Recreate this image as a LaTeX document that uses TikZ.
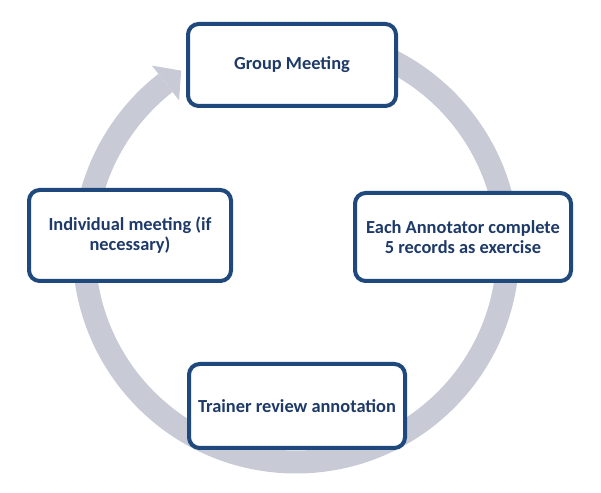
\documentclass[tikz,border=0pt]{standalone}
\usepackage{fontspec}
\setmainfont{Carlito}
\usetikzlibrary{calc}
\definecolor{ringgray}{RGB}{200,203,214}
\definecolor{boxnavy}{RGB}{31,73,125}
\definecolor{textnavy}{RGB}{30,58,104}
\begin{document}
\begin{tikzpicture}[x=0.75pt,y=0.75pt,
  stepbox/.style={draw=boxnavy, line width=3pt, fill=white, rounded corners=8pt,
    align=center, text=textnavy, font=\fontsize{13.8}{15}\selectfont\bfseries,
    inner sep=0pt},
  ring/.style={draw=ringgray, line width=17.25pt}]
\useasboundingbox (0,0) rectangle (601,493);
\coordinate (c) at (296,243);
% ring
\draw[ring] ($(c)+(90:212)$) arc[start angle=90, end angle=-232, radius=212];
\fill[ringgray] ($(c)+(128:234)$) -- ($(c)+(128:212)+(38:20)$) -- ($(c)+(128:190)$) -- cycle;
% boxes
\node[stepbox, minimum width=156pt, minimum height=61.5pt] (g) at (292,428) {Group Meeting};
\node[stepbox, minimum width=151.5pt, minimum height=68.25pt] (i) at (130,257.5) {Individual meeting (if\\necessary)};
\node[stepbox, minimum width=162pt, minimum height=66pt] (a) at (463,256) {Each Annotator complete\\5 records as exercise};
\node[stepbox, minimum width=162pt, minimum height=63pt] (t) at (297,87) {Trainer review annotation};
\end{tikzpicture}
\end{document}
